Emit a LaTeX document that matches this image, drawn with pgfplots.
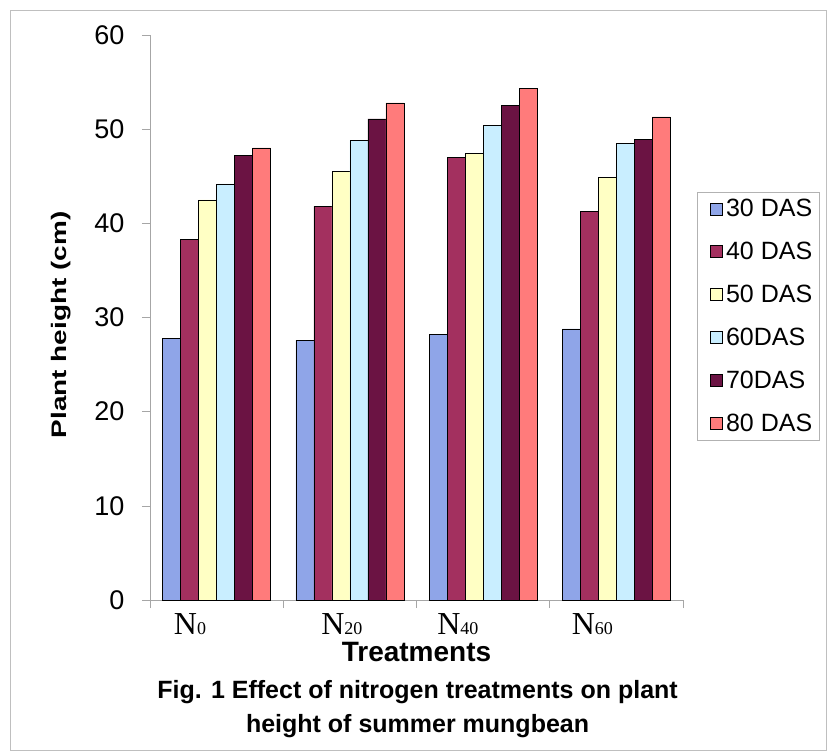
\documentclass[border=0pt]{standalone}
\usepackage{fontspec}
\setmainfont{Liberation Sans}
\newfontfamily\timesf{Liberation Serif}
\usepackage{pgfplots}
\pgfplotsset{compat=1.18}
\definecolor{c1}{HTML}{8FA5E8}
\definecolor{c2}{HTML}{A3305F}
\definecolor{c3}{HTML}{FFFFC4}
\definecolor{c4}{HTML}{C9EEFF}
\definecolor{c5}{HTML}{6B1343}
\definecolor{c6}{HTML}{FF7B7B}
\newcommand{\Nl}[1]{N{\fontsize{18bp}{18bp}\selectfont #1}}
\begin{document}
\begin{tikzpicture}
\begin{axis}[name=ax,
 scale only axis, width=533bp, height=565bp,
 xmin=-0.5, xmax=3.5, ymin=0, ymax=60,
 ytick={0,10,...,60},
 /pgf/number format/assume math mode=true,
 ticklabel style={font=\fontsize{27bp}{27bp}\selectfont},
 yticklabel style={xshift=-14bp},
 axis x line*=bottom, axis y line*=left,
 axis line style={-, draw=gray!70},
 tick align=outside,
 major tick length=8bp,
 tick style={draw=gray!70, line width=0.6pt},
 xtick={-0.5,0.5,1.5,2.5,3.5}, xticklabels={},
 extra x ticks={-0.2,0.94,1.81,2.82},
 extra x tick labels={\Nl{0},\Nl{20},\Nl{40},\Nl{60}},
 extra x tick style={major tick length=0pt, xticklabel style={font=\timesf\fontsize{32bp}{32bp}\selectfont, yshift=-10bp}},
 ybar, bar width=0.135,
 xlabel={Treatments},
 ylabel={\scalebox{1.33}[1]{Plant height (cm)}},
 xlabel style={font=\bfseries\fontsize{28bp}{28bp}\selectfont, at={(axis description cs:0.5,-0.092)}, anchor=center},
 ylabel style={font=\bfseries\fontsize{21bp}{21bp}\selectfont, at={(axis description cs:-0.167,0.487)}, anchor=center},
 legend style={at={(1.026,0.722)}, anchor=north west, draw=gray!60,
   font=\fontsize{25bp}{25bp}\selectfont, row sep=20bp, inner sep=5bp},
 legend cell align=left,
 legend image code/.code={\path[draw=none, fill=none] (0bp,0bp) -- (22bp,0bp); \draw[#1, draw=black] (8bp,-6bp) rectangle (20bp,6bp);},
 clip=false,
]
\addplot[fill=c1, draw=black, bar shift=-0.3375] coordinates {(0,27.8) (1,27.6) (2,28.2) (3,28.8)};
\addplot[fill=c2, draw=black, bar shift=-0.2025] coordinates {(0,38.3) (1,41.8) (2,47.0) (3,41.3)};
\addplot[fill=c3, draw=black, bar shift=-0.0675] coordinates {(0,42.5) (1,45.5) (2,47.4) (3,44.9)};
\addplot[fill=c4, draw=black, bar shift=0.0675] coordinates {(0,44.2) (1,48.8) (2,50.4) (3,48.5)};
\addplot[fill=c5, draw=black, bar shift=0.2025] coordinates {(0,47.2) (1,51.1) (2,52.5) (3,48.9)};
\addplot[fill=c6, draw=black, bar shift=0.3375] coordinates {(0,48.0) (1,52.8) (2,54.3) (3,51.3)};
\legend{30 DAS,40 DAS,50 DAS,60DAS,70DAS,80 DAS}
\node[font=\bfseries\fontsize{25bp}{25bp}\selectfont, anchor=base] at ([yshift=-98bp]rel axis cs:0.502,0) {Fig. 1 Effect of nitrogen treatments on plant};
\node[font=\bfseries\fontsize{25bp}{25bp}\selectfont, anchor=base] at ([yshift=-132bp]rel axis cs:0.502,0) {height of summer mungbean};
\end{axis}
\path ([shift={(-150bp,-154bp)}]ax.south west) rectangle ([shift={(147bp,35bp)}]ax.north east);
\draw[gray!50, line width=0.8pt] ([shift={(-140bp,-150bp)}]ax.south west) rectangle ([shift={(143bp,25bp)}]ax.north east);
\end{tikzpicture}
\end{document}
